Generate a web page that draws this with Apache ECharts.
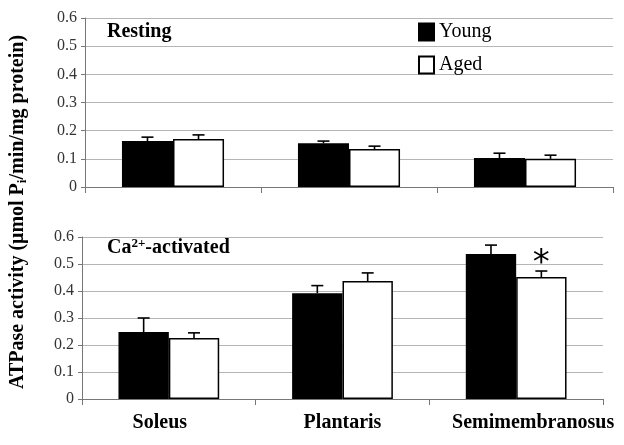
<!DOCTYPE html>
<html><head><meta charset="utf-8">
<script src="https://cdn.jsdelivr.net/npm/echarts@6/dist/echarts.min.js"></script>
<style>html,body{margin:0;padding:0;background:#fff}#c{width:624px;height:445px}</style>
</head><body><div id="c"></div>
<script>
const categories = ['Soleus', 'Plantaris', 'Semimembranosus'];
const yTicks = [0, 0.1, 0.2, 0.3, 0.4, 0.5, 0.6];
// Resting
const restYoung = [0.163, 0.155, 0.103];
const restYoungErr = [0.177, 0.163, 0.12];
const restAged = [0.17, 0.135, 0.10];
const restAgedErr = [0.185, 0.145, 0.113];
// Ca2+-activated
const caYoung = [0.248, 0.392, 0.537];
const caYoungErr = [0.30, 0.42, 0.57];
const caAged = [0.226, 0.437, 0.452];
const caAgedErr = [0.245, 0.467, 0.474];

const serif = 'Liberation Serif, Times New Roman, serif';
const GAP = 0.42;

function errSeries(vals, errs, side, xi, yi) {
  return {
    type: 'custom', xAxisIndex: xi, yAxisIndex: yi, z: 5, silent: true,
    data: vals.map((v, i) => [i, v, errs[i]]),
    encode: { x: 0, y: [1, 2] },
    renderItem: function (params, api) {
      const band = api.size([1, 0])[0];
      const w = band * (1 - GAP) / 2;
      const c = api.coord([api.value(0), api.value(1)]);
      const t = api.coord([api.value(0), api.value(2)]);
      const x = c[0] + side * w / 2;
      const st = { stroke: '#000', lineWidth: 1.6 };
      return { type: 'group', children: [
        { type: 'line', shape: { x1: x, y1: c[1], x2: x, y2: t[1] }, style: st },
        { type: 'line', shape: { x1: x - 6, y1: t[1], x2: x + 6, y2: t[1] }, style: st }
      ]};
    }
  };
}

const yAxisCommon = {
  type: 'value', min: 0, max: 0.6, interval: 0.1,
  axisLine: { show: true, lineStyle: { color: '#777' } },
  axisTick: { show: true, length: 4, lineStyle: { color: '#777' } },
  axisLabel: { fontFamily: serif, fontSize: 16, color: '#333', margin: 8,
    formatter: v => String(yTicks.find(t => Math.abs(t - v) < 1e-9) ?? v) },
  splitLine: { lineStyle: { color: '#b5b5b5', width: 1.2 } }
};
const xAxisCommon = {
  type: 'category', data: categories,
  axisLine: { lineStyle: { color: '#777' } },
  axisTick: { show: true, length: 6, lineStyle: { color: '#777' } }
};

const chart = echarts.init(document.getElementById('c'));
chart.setOption({
  animation: false,
  backgroundColor: '#fff',
  grid: [
    { left: 85, right: 11, top: 18, height: 169 },
    { left: 82, right: 21, top: 237, height: 162 }
  ],
  xAxis: [
    Object.assign({}, xAxisCommon, { gridIndex: 0, axisLabel: { show: false } }),
    Object.assign({}, xAxisCommon, { gridIndex: 1, axisLabel: { interval: 0, fontFamily: serif, fontSize: 20, fontWeight: 'bold', color: '#000', margin: 14,
      formatter: (v, i) => ['{a|' + v + '}', '{b|' + v + '}', '{c|' + v + '}'][i],
      rich: {
        a: { fontFamily: serif, fontSize: 20, fontWeight: 'bold', color: '#000', padding: [0, 18, 0, 0] },
        b: { fontFamily: serif, fontSize: 20, fontWeight: 'bold', color: '#000', padding: [0, 0, 0, 0] },
        c: { fontFamily: serif, fontSize: 20, fontWeight: 'bold', color: '#000', padding: [0, 0, 0, 34] }
      } } })
  ],
  yAxis: [
    Object.assign({}, yAxisCommon, { gridIndex: 0 }),
    Object.assign({}, yAxisCommon, { gridIndex: 1 })
  ],
  legend: {
    orient: 'vertical', left: 418, top: 22, padding: 0, itemWidth: 15, itemHeight: 17, itemGap: 13, icon: 'rect',
    textStyle: { fontFamily: serif, fontSize: 20, color: '#000' },
    data: ['Young', 'Aged']
  },
  series: [
    { name: 'Young', type: 'bar', xAxisIndex: 0, yAxisIndex: 0, data: restYoung, barGap: '0%', barCategoryGap: '42%',
      itemStyle: { color: '#000', borderColor: '#000', borderWidth: 1.5 } },
    { name: 'Aged', type: 'bar', xAxisIndex: 0, yAxisIndex: 0, data: restAged, barGap: '0%', barCategoryGap: '42%',
      itemStyle: { color: '#fff', borderColor: '#000', borderWidth: 1.5 } },
    { name: 'Young', type: 'bar', xAxisIndex: 1, yAxisIndex: 1, data: caYoung, barGap: '0%', barCategoryGap: '42%',
      itemStyle: { color: '#000', borderColor: '#000', borderWidth: 1.5 } },
    { name: 'Aged', type: 'bar', xAxisIndex: 1, yAxisIndex: 1, data: caAged, barGap: '0%', barCategoryGap: '42%',
      itemStyle: { color: '#fff', borderColor: '#000', borderWidth: 1.5 },
      markPoint: { symbol: 'circle', symbolSize: 0, silent: true,
        data: [{ coord: ['Semimembranosus', 0.5], value: '*' }],
        label: { show: true, formatter: '*', fontFamily: 'DejaVu Sans', fontSize: 34, color: '#000', offset: [0, 0] } } },
    errSeries(restYoung, restYoungErr, -1, 0, 0),
    errSeries(restAged, restAgedErr, 1, 0, 0),
    errSeries(caYoung, caYoungErr, -1, 1, 1),
    errSeries(caAged, caAgedErr, 1, 1, 1)
  ],
  graphic: [
    { type: 'text', left: 107, top: 22, style: { text: 'Resting', font: 'bold 20px ' + serif, fill: '#000' } },
    { type: 'text', left: 107, top: 237, style: { text: 'Ca{sup|2+}-activated', font: 'bold 20px ' + serif, fill: '#000',
        rich: { sup: { font: 'bold 13px ' + serif, verticalAlign: 'top', padding: [0, 0, 9, 0] } } } },
    { type: 'text', x: 18, y: 212, rotation: Math.PI / 2, originX: 0, originY: 0,
      style: { text: 'ATPase activity (μmol P{sub|i}/min/mg protein)', font: 'bold 20px ' + serif, fill: '#000',
        align: 'center', verticalAlign: 'middle',
        rich: { sub: { font: 'bold 13px ' + serif, padding: [9, 0, 0, 0] } } } }
  ]
});
</script></body></html>
